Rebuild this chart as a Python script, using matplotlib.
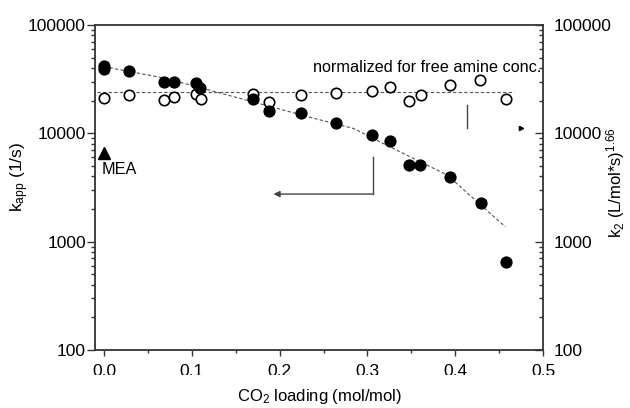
import numpy as np
import matplotlib.pyplot as plt
from matplotlib.transforms import Bbox, TransformedBbox

plt.rcParams['font.family'] = ['Liberation Sans', 'DejaVu Sans']
plt.rcParams['mathtext.fontset'] = 'custom'
plt.rcParams['mathtext.rm'] = 'Liberation Sans'
plt.rcParams['mathtext.it'] = 'Liberation Sans:italic'
plt.rcParams['font.size'] = 12

# k_app, filled circles
x_kapp = [0.0, 0.0, 0.028, 0.068, 0.080, 0.105, 0.1095, 0.170, 0.188, 0.224,
          0.264, 0.305, 0.326, 0.347, 0.360, 0.394, 0.4295, 0.458]
y_kapp = [41500, 39000, 37900, 29800, 29800, 29300, 26100, 20800, 16200, 15500,
          12400, 9660, 8500, 5100, 5100, 3930, 2290, 644]

# k2 normalized, open circles
x_k2 = [0.0, 0.028, 0.068, 0.080, 0.105, 0.110, 0.170, 0.188, 0.224,
        0.264, 0.305, 0.326, 0.347, 0.361, 0.394, 0.4287, 0.458]
y_k2 = [21300, 22600, 20400, 21500, 23100, 20600, 22900, 19600, 22600,
        23700, 24800, 26600, 20000, 22600, 27900, 31000, 20600]

# fit lines
x_fit1 = [0.0, 0.07, 0.1475, 0.2387, 0.284, 0.3176, 0.36, 0.391, 0.429, 0.457]
y_fit1 = [41200, 32200, 21800, 13800, 11100, 8090, 5470, 4120, 2180, 1375]
x_fit2 = [-0.008, 0.467]
y_fit2 = [24300, 24300]

# MEA reference
x_mea = [0.0]
y_mea = [6620]

yticks = [100, 1000, 10000, 100000]
ytick_labels = ['100', '1000', '10000', '100000']

fig = plt.figure(figsize=(6.3, 4.08), dpi=100)
ax = fig.add_axes([95/630, 1-350/408, 448/630, 325/408])

ax.plot(x_fit1, y_fit1, ls=(0, (3, 2)), color='#555555', lw=0.8)
ax.plot(x_fit2, y_fit2, ls=(0, (3, 2)), color='#555555', lw=0.8)
ax.plot(x_k2, y_k2, 'o', ms=7.5, mfc='white', mec='black', mew=1.2)
ax.plot(x_kapp, y_kapp, 'o', ms=7.8, mfc='black', mec='black')
ax.plot(x_mea, y_mea, '^', ms=8, color='black')

ax.set_yscale('log')
ax.set_xlim(-0.0103, 0.5)
ax.set_ylim(100, 100000)
ax.set_xticks([0.0, 0.1, 0.2, 0.3, 0.4, 0.5])
ax.set_xticks([0.05, 0.15, 0.25, 0.35, 0.45], minor=True)
ax.set_yticks(yticks)
ax.set_yticklabels(ytick_labels)
ax.tick_params(axis='x', which='major', length=4, width=1, pad=6, color='#333333', labelsize=12.5)
ax.tick_params(axis='x', which='minor', length=2.5, width=1, color='#333333')
ax.tick_params(axis='y', which='major', length=5.5, width=1, pad=1, color='#333333', labelsize=12.5)
ax.tick_params(axis='y', which='minor', length=3, width=1, color='#333333')
for s in ax.spines.values():
    s.set_linewidth(1.3)
    s.set_color('#333333')

ax2 = ax.twinx()
ax2.set_yscale('log')
ax2.set_ylim(100, 100000)
ax2.set_yticks(yticks)
ax2.set_yticklabels(ytick_labels)
ax2.tick_params(axis='y', which='major', direction='in', length=5.5, width=1, pad=8,
                color='#333333', labelsize=12.5)
ax2.tick_params(axis='y', which='minor', direction='in', length=3, width=1, color='#333333')
for s in ax2.spines.values():
    s.set_visible(False)

# axis titles
fig.text(320/630, 1-397/408, 'CO$_2$ loading (mol/mol)', ha='center', va='center', fontsize=12)
fig.text(20/630, 1-177/408, 'k$_{\\mathrm{app}}$ (1/s)', rotation=90, ha='center', va='center', fontsize=12.5)
fig.text(616/630, 1-183/408, 'k$_2$ (L/mol*s)$^{1.66}$', rotation=90, ha='center', va='center', fontsize=12)

# annotations
ax.text(0.238, 40900, 'normalized for free amine conc.', ha='left', va='center', fontsize=11.7)
ax.text(-0.003, 4660, 'MEA', ha='left', va='center', fontsize=11.7)

ax.plot([0.306, 0.306], [6080, 2750], color='#444444', lw=1)
ax.annotate('', xy=(0.193, 2750), xytext=(0.306, 2750),
            arrowprops=dict(arrowstyle='-|>', color='#444444', lw=1,
                            mutation_scale=9, shrinkA=0, shrinkB=0))
ax.plot([0.4136, 0.4136], [18200, 11100], color='#444444', lw=1)
ax.plot([0.475], [11100], marker='>', ms=3, color='black')

# the x tick labels are cut at the bottom in the original
clip = TransformedBbox(Bbox([[0, 1-375/408], [1, 1]]), fig.transFigure)
for t in ax.xaxis.get_major_ticks():
    t.label1.set_clip_box(clip)
    t.label1.set_clip_on(True)

fig.savefig('out.png', dpi=100)
